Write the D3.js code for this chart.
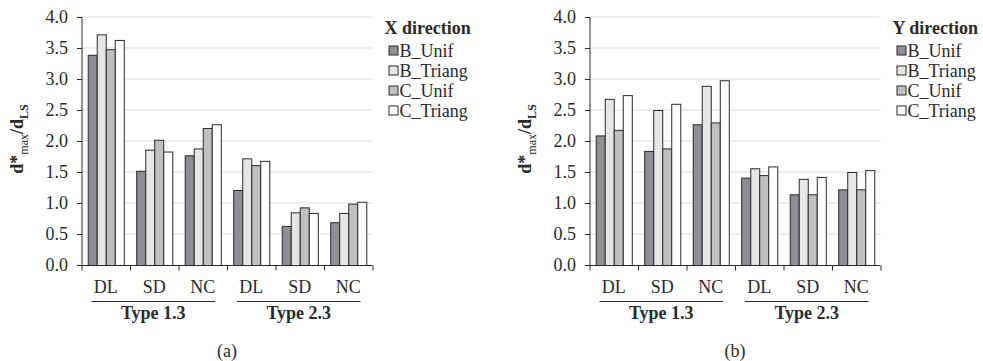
<!DOCTYPE html>
<html>
<head>
<meta charset="utf-8">
<script src="https://cdn.jsdelivr.net/npm/d3@7"></script>
<style>
  html, body { margin: 0; padding: 0; background: #fff; }
  svg { display: block; font-family: "Liberation Serif", "Times New Roman", serif; }
</style>
</head>
<body>
<svg id="chart" width="983" height="361"></svg>
<script>
// data
const groups = ['Type 1.3', 'Type 2.3'];
const categories = ['DL', 'SD', 'NC'];
const seriesNames = ['B_Unif', 'B_Triang', 'C_Unif', 'C_Triang'];
const yTicks = [0, 0.5, 1, 1.5, 2, 2.5, 3, 3.5, 4];

// X direction, order: Type 1.3 DL/SD/NC, Type 2.3 DL/SD/NC
const xBUnif   = [3.39, 1.52, 1.77, 1.21, 0.63, 0.69];
const xBTriang = [3.72, 1.86, 1.88, 1.72, 0.85, 0.84];
const xCUnif   = [3.48, 2.02, 2.21, 1.61, 0.93, 0.99];
const xCTriang = [3.63, 1.83, 2.27, 1.68, 0.84, 1.02];

// Y direction
const yBUnif   = [2.09, 1.84, 2.27, 1.41, 1.14, 1.22];
const yBTriang = [2.68, 2.50, 2.89, 1.56, 1.39, 1.50];
const yCUnif   = [2.18, 1.88, 2.30, 1.45, 1.14, 1.22];
const yCTriang = [2.74, 2.60, 2.98, 1.59, 1.42, 1.53];

const colors = ['#8e8f93', '#e6e6e6', '#c0c0c0', '#ffffff'];

const svg = d3.select('#chart');
const H = 248; // plot height
const W = 291; // plot width

function drawPanel(left, top, legendTitle, series, tag) {
    const g = svg.append('g').attr('transform', `translate(${left},${top})`);

    const keys = [];
    groups.forEach((grp) => categories.forEach((c) => keys.push(grp + '|' + c)));

    const y = d3.scaleLinear().domain([0, 4]).range([H, 0]);
    const x0 = d3.scaleBand().domain(keys).range([0, W]);
    const x1 = d3.scaleBand().domain(seriesNames).range([0, x0.bandwidth()]).paddingOuter(0.69);

    // grid
    g.selectAll('line.grid')
        .data(yTicks.filter((t) => t > 0))
        .enter()
        .append('line')
        .attr('x1', 0).attr('x2', W)
        .attr('y1', (d) => y(d)).attr('y2', (d) => y(d))
        .attr('stroke', '#dcdcdc').attr('stroke-width', 1);

    // bars
    seriesNames.forEach((s, si) => {
        g.selectAll('rect.s' + si)
            .data(series[si])
            .enter()
            .append('rect')
            .attr('x', (d, i) => x0(keys[i]) + x1(s) + 0.5)
            .attr('y', (d) => y(d) + 0.5)
            .attr('width', x1.bandwidth())
            .attr('height', (d) => H - y(d))
            .attr('fill', colors[si])
            .attr('stroke', '#2a2a2a')
            .attr('stroke-width', 1);
    });

    // y axis
    const yAxis = d3.axisLeft(y).tickValues(yTicks).tickFormat(d3.format('.1f')).tickSize(5).tickPadding(9);
    const ya = g.append('g').attr('transform', 'translate(0.5,0)').call(yAxis);
    ya.select('.domain').attr('stroke', '#2a2a2a').attr('d', `M0,${H}V0`);
    ya.selectAll('.tick line').attr('stroke', '#2a2a2a');
    ya.selectAll('.tick text')
        .attr('font-family', '"Liberation Serif", serif')
        .attr('font-size', 18)
        .attr('fill', '#2a2a2a');

    // x axis with ticks on band boundaries
    const xa = g.append('g').attr('transform', `translate(0,${H + 0.5})`);
    xa.append('line').attr('x1', 0).attr('x2', W).attr('stroke', '#2a2a2a');
    const bounds = keys.map((k) => x0(k)).concat([W]);
    xa.selectAll('line.tk')
        .data(bounds)
        .enter()
        .append('line')
        .attr('x1', (d) => d + 0.5).attr('x2', (d) => d + 0.5)
        .attr('y1', 0).attr('y2', 5)
        .attr('stroke', '#2a2a2a');
    xa.selectAll('text.cat')
        .data(keys)
        .enter()
        .append('text')
        .attr('x', (k) => x0(k) + x0.bandwidth() / 2)
        .attr('y', 27)
        .attr('text-anchor', 'middle')
        .attr('font-size', 18)
        .attr('fill', '#2a2a2a')
        .text((k) => k.split('|')[1]);

    // group labels with underline
    groups.forEach((grp) => {
        const gx0 = x0(grp + '|' + categories[0]);
        const gx1 = x0(grp + '|' + categories[categories.length - 1]) + x0.bandwidth();
        xa.append('line')
            .attr('x1', gx0 + 10).attr('x2', gx1 - 12)
            .attr('y1', 36).attr('y2', 36)
            .attr('stroke', '#2a2a2a');
        xa.append('text')
            .attr('x', (gx0 + gx1) / 2 - 1)
            .attr('y', 53)
            .attr('text-anchor', 'middle')
            .attr('font-size', 18)
            .attr('font-weight', 'bold')
            .attr('fill', '#2a2a2a')
            .text(grp);
    });

    // y title
    const yt = g.append('text')
        .attr('transform', `translate(-59,${H / 2 - 2}) rotate(-90)`)
        .attr('text-anchor', 'middle')
        .attr('font-size', 18)
        .attr('font-weight', 'bold')
        .attr('fill', '#2a2a2a');
    yt.append('tspan').text('d*');
    yt.append('tspan').attr('dy', 5).attr('font-size', 12).attr('font-weight', 'normal').text('max');
    yt.append('tspan').attr('dy', -5).text('/d');
    yt.append('tspan').attr('dy', 5).attr('font-size', 12).text('LS');

    // panel tag
    g.append('text')
        .attr('x', W / 2)
        .attr('y', H + 92)
        .attr('text-anchor', 'middle')
        .attr('font-size', 18)
        .attr('fill', '#2a2a2a')
        .text(tag);

    // legend
    const lg = g.append('g').attr('transform', `translate(${W + 12},0)`);
    lg.append('text')
        .attr('x', 0).attr('y', 17)
        .attr('font-size', 18)
        .attr('font-weight', 'bold')
        .attr('fill', '#2a2a2a')
        .text(legendTitle);
    const items = lg.selectAll('g.item')
        .data(seriesNames)
        .enter()
        .append('g')
        .attr('transform', (d, i) => `translate(0,${33.5 + i * 20})`);
    items.append('rect')
        .attr('x', 4.5).attr('y', -4.5)
        .attr('width', 9).attr('height', 9)
        .attr('fill', (d, i) => colors[i])
        .attr('stroke', '#2a2a2a');
    items.append('text')
        .attr('x', 15).attr('y', 6)
        .attr('font-size', 18)
        .attr('fill', '#2a2a2a')
        .text((d) => d);
}

drawPanel(81.5, 17, 'X direction', [xBUnif, xBTriang, xCUnif, xCTriang], '(a)');
drawPanel(589.5, 17, 'Y direction', [yBUnif, yBTriang, yCUnif, yCTriang], '(b)');
</script>
</body>
</html>
